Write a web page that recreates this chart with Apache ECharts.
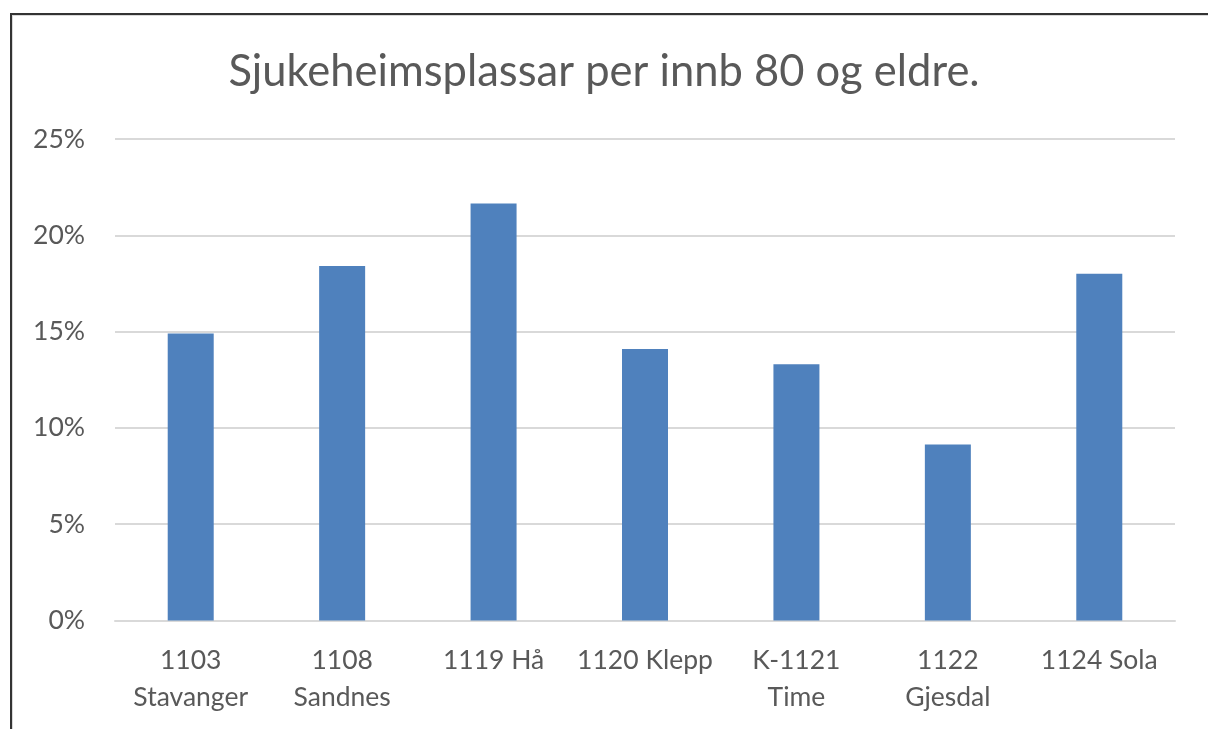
<!DOCTYPE html>
<html>
<head>
<meta charset="utf-8">
<script src="https://cdn.jsdelivr.net/npm/echarts@6/dist/echarts.min.js"></script>
<style>
html,body{margin:0;padding:0;background:#fff;}
#chart{position:absolute;left:0;top:0;width:1208px;height:729px;}
#frame{position:absolute;left:10px;top:13px;width:1198px;height:716px;border-top:2px solid #333;border-left:2px solid #333;box-shadow:inset 1px 1px 0 #d9d9d9;pointer-events:none;box-sizing:border-box;}
</style>
</head>
<body>
<div id="chart"></div>
<div id="frame"></div>
<script>
const title = 'Sjukeheimsplassar per innb 80 og eldre.';
const categories = ['1103\nStavanger', '1108\nSandnes', '1119 Hå', '1120 Klepp', 'K-1121\nTime', '1122\nGjesdal', '1124 Sola'];
const values = [0.149, 0.184, 0.2165, 0.141, 0.133, 0.0914, 0.180];
const yTicks = [0, 0.05, 0.10, 0.15, 0.20, 0.25];

const chart = echarts.init(document.getElementById('chart'), null, {renderer: 'canvas'});
const font = 'Lato, "Open Sans", sans-serif';
chart.setOption({
  animation: false,
  backgroundColor: '#fff',
  title: {
    text: title, left: 'center', top: 45,
    textStyle: {fontFamily: font, fontSize: 43.5, fontWeight: 'normal', color: '#595959'}
  },
  grid: {left: 115, right: 33, top: 139, bottom: 108.5, containLabel: false},
  xAxis: {
    type: 'category', data: categories,
    axisLine: {show: true, lineStyle: {color: '#d9d9d9', width: 2}},
    axisTick: {show: false},
    axisLabel: {fontFamily: font, fontSize: 26.5, color: '#595959', lineHeight: 37, margin: 21, interval: 0}
  },
  yAxis: {
    type: 'value', min: yTicks[0], max: yTicks[yTicks.length - 1], interval: 0.05,
    axisLine: {show: false}, axisTick: {show: false},
    splitLine: {lineStyle: {color: '#d9d9d9', width: 2}},
    axisLabel: {fontFamily: font, fontSize: 26.5, color: '#595959', margin: 30,
      formatter: v => Math.round(v * 100) + '%'}
  },
  series: [{
    type: 'bar', data: values, barWidth: 46,
    itemStyle: {color: '#4f81bd'}
  }]
});
</script>
</body>
</html>
